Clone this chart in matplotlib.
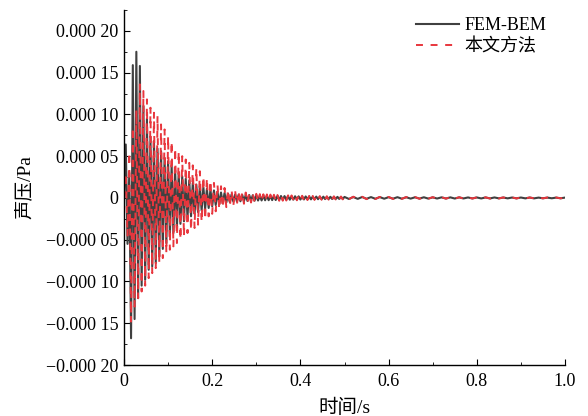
import numpy as np
from matplotlib import pyplot as plt
from matplotlib.ticker import MultipleLocator, FuncFormatter

# sound pressure, in units of 1e-5 Pa
# dense part: one value every 0.004 s from t = 0 to 0.496 s
dense_step = 0.004
fem_bem_dense = [
    0, 6.4, -5.5, 3.0, -16.8, 15.9, -14.5, 17.5, -12.0, 15.8,
    -10.5, 11.0, -9.8, 9.5, -8.6, 7.2, -8.2, 6.8, -7.8, 5.9,
    -7.0, 5.6, -6.1, 4.8, -5.4, 4.4, -4.6, 3.9, -4.2, 3.3,
    -3.6, 3.0, -3.1, 2.6, -2.8, 2.3, -2.4, 2.1, -2.2, 1.8,
    -1.9, 1.6, -1.7, 1.4, -1.5, 1.3, -1.3, 1.1, -1.2, 1.0,
    -1.0, 0.9, -0.85, 0.75, -0.7, 0.65, -0.65, 0.6, -0.55, 0.5,
    -0.5, 0.45, -0.45, 0.42, -0.42, 0.4, -0.4, 0.38, -0.38, 0.36,
    -0.36, 0.35, -0.34, 0.33, -0.33, 0.32, -0.31, 0.3, -0.3, 0.29,
    -0.28, 0.28, -0.27, 0.26, -0.26, 0.25, -0.25, 0.24, -0.24, 0.23,
    -0.23, 0.22, -0.22, 0.21, -0.21, 0.2, -0.2, 0.2, -0.19, 0.19,
    -0.19, 0.18, -0.18, 0.18, -0.17, 0.17, -0.17, 0.16, -0.16, 0.16,
    -0.15, 0.15, -0.15, 0.15, -0.14, 0.14, -0.14, 0.14, -0.13, 0.13,
    -0.13, 0.13, -0.12, 0.12, -0.12,
]
present_dense = [
    0, 3.0, -4.5, 5.5, -14.8, 8.5, -13.0, 10.5, -12.0, 13.6,
    -11.2, 12.8, -10.5, 11.8, -9.6, 10.8, -9.0, 10.2, -8.4, 9.8,
    -7.8, 8.8, -7.2, 8.2, -6.6, 7.4, -6.2, 6.8, -5.8, 6.0,
    -5.4, 5.6, -5.0, 5.0, -4.6, 4.6, -4.2, 4.2, -3.9, 3.9,
    -3.6, 3.6, -3.2, 3.2, -2.9, 2.6, -2.6, 2.4, -2.2, 2.1,
    -1.9, 1.8, -1.6, 1.6, -1.4, 1.4, -1.2, 1.2, -1.1, 1.0,
    -1.0, 0.9, -0.9, 0.85, -0.8, 0.8, -0.75, 0.7, -0.7, 0.65,
    -0.6, 0.6, -0.55, 0.55, -0.5, 0.5, -0.48, 0.46, -0.45, 0.44,
    -0.42, 0.42, -0.4, 0.4, -0.38, 0.38, -0.36, 0.35, -0.34, 0.34,
    -0.33, 0.32, -0.31, 0.31, -0.3, 0.3, -0.29, 0.28, -0.28, 0.27,
    -0.27, 0.26, -0.26, 0.25, -0.25, 0.24, -0.24, 0.23, -0.23, 0.22,
    -0.22, 0.21, -0.21, 0.2, -0.2, 0.2, -0.2, 0.19, -0.19, 0.19,
    -0.18, 0.18, -0.18, 0.17, -0.17,
]

# tail: one value every 0.01 s from t = 0.5 to 1.0 s
tail_start = 0.5
tail_step = 0.01
fem_bem_tail = [
    0.12, -0.12, 0.11, -0.11, 0.11, -0.1, 0.1, -0.1, 0.1, -0.09,
    0.09, -0.09, 0.09, -0.09, 0.08, -0.08, 0.08, -0.08, 0.08, -0.08,
    0.07, -0.07, 0.07, -0.07, 0.07, -0.07, 0.07, -0.06, 0.06, -0.06,
    0.06, -0.06, 0.06, -0.06, 0.06, -0.05, 0.05, -0.05, 0.05, -0.05,
    0.05, -0.05, 0.05, -0.05, 0.04, -0.04, 0.04, -0.04, 0.04, -0.04,
    0.04,
]
present_tail = [
    0.16, -0.16, 0.15, -0.15, 0.14, -0.14, 0.14, -0.13, 0.13, -0.12,
    0.12, -0.12, 0.11, -0.11, 0.11, -0.1, 0.1, -0.1, 0.1, -0.09,
    0.09, -0.09, 0.09, -0.08, 0.08, -0.08, 0.08, -0.08, 0.07, -0.07,
    0.07, -0.07, 0.07, -0.07, 0.06, -0.06, 0.06, -0.06, 0.06, -0.06,
    0.06, -0.05, 0.05, -0.05, 0.05, -0.05, 0.05, -0.05, 0.05, -0.05,
    0.05,
]

labels = ["FEM-BEM", "本文方法"]
x_label = "时间/s"
y_label = "声压/Pa"


def series(dense, tail):
    t = np.concatenate([
        np.arange(len(dense)) * dense_step,
        tail_start + np.arange(len(tail)) * tail_step,
    ])
    p = np.concatenate([dense, tail]) * 1e-5
    return t, p


def y_fmt(v, pos):
    if abs(v) < 1e-12:
        return "0"
    s = f"{abs(v):.5f}"
    s = s[:5] + " " + s[5:]
    return ("\u2212" if v < 0 else "") + s


def x_fmt(v, pos):
    if abs(v) < 1e-12:
        return "0"
    return f"{v:.1f}"


plt.rcParams.update(
    {
        "font.family": ["Liberation Serif", "Noto Sans CJK SC"],
        "font.size": 13,
        "lines.scale_dashes": False,
        "axes.linewidth": 1.0,
        "xtick.direction": "in",
        "ytick.direction": "in",
        "xtick.major.size": 4,
        "ytick.major.size": 4,
        "xtick.minor.size": 2.5,
        "ytick.minor.size": 2.5,
        "xtick.major.pad": 6,
        "ytick.major.pad": 4,
    }
)

fig = plt.figure(figsize=(5.88, 4.16), dpi=100)
ax = fig.add_axes([124 / 588, 51 / 416, 441 / 588, 355 / 416])

t1, p1 = series(fem_bem_dense, fem_bem_tail)
t2, p2 = series(present_dense, present_tail)

ax.plot(t1, p1, color="#404040", linewidth=1.5, label=labels[0])
ax.plot(t2, p2, color="#e8363d", linewidth=1.4,
        linestyle=(0, (5, 5.5)), label=labels[1])

ax.set_xlim(0, 1.0)
ax.set_ylim(-0.0002, 0.000225)
ax.xaxis.set_major_locator(MultipleLocator(0.2))
ax.xaxis.set_minor_locator(MultipleLocator(0.1))
ax.yaxis.set_major_locator(MultipleLocator(0.00005))
ax.yaxis.set_minor_locator(MultipleLocator(0.000025))
ax.xaxis.set_major_formatter(FuncFormatter(x_fmt))
ax.yaxis.set_major_formatter(FuncFormatter(y_fmt))

ax.spines["top"].set_visible(False)
ax.spines["right"].set_visible(False)

ax.set_xlabel(x_label, fontsize=14, labelpad=6)
ax.set_ylabel(y_label, fontsize=14, labelpad=8)

ax.legend(
    loc="upper left",
    bbox_to_anchor=(416 / 588, 1 - 17 / 416),
    bbox_transform=fig.transFigure,
    frameon=False,
    fontsize=13,
    handlelength=2.4,
    handletextpad=0.3,
    labelspacing=0.25,
    borderpad=0,
    borderaxespad=0,
)

fig.savefig("out.png", dpi=100)
